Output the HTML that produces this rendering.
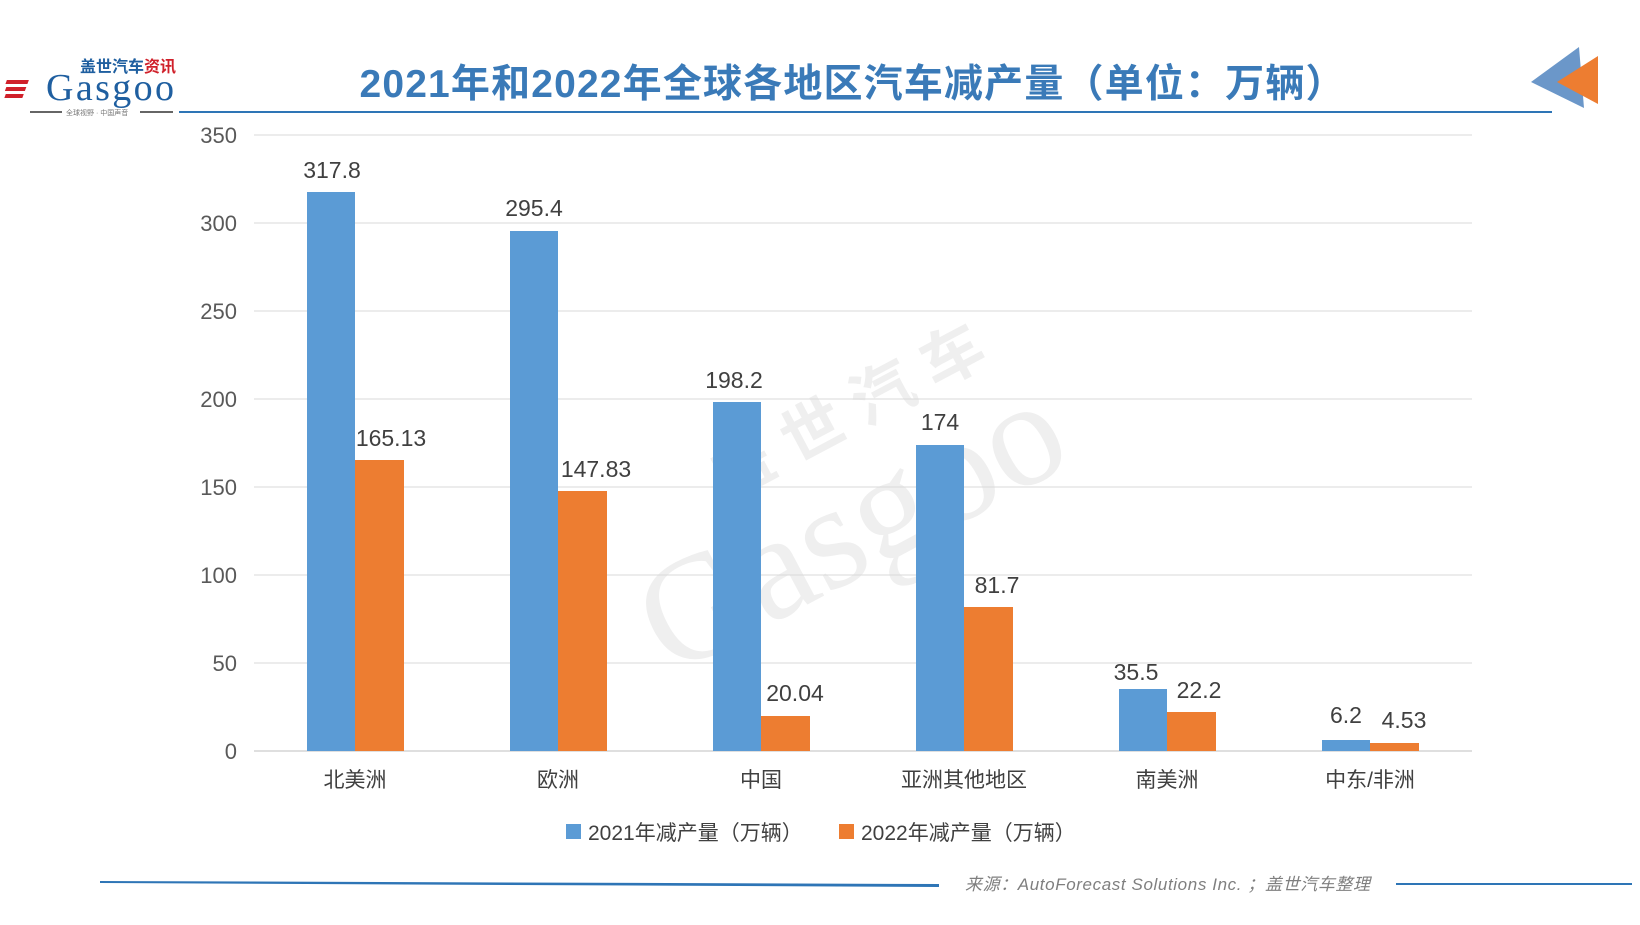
<!DOCTYPE html>
<html><head><meta charset="utf-8"><style>
html,body{margin:0;padding:0;background:#fff;}
svg{display:block;}
text{font-family:"Liberation Sans","Noto Sans CJK SC",sans-serif;}
</style></head><body>
<svg width="1640" height="925" viewBox="0 0 1640 925" xmlns="http://www.w3.org/2000/svg">
<rect width="1640" height="925" fill="#fff"/>
<!-- logo -->
<g>
<text x="80" y="72" font-size="16" font-weight="bold" fill="#1f5fa0">盖世汽车<tspan fill="#d0202a">资讯</tspan></text>
<rect x="36" y="80" width="22" height="4" fill="#d0202a" transform="skewX(-20)"/>
<rect x="38" y="87" width="20" height="4" fill="#d0202a" transform="skewX(-20)"/>
<rect x="40" y="94" width="18" height="4" fill="#d0202a" transform="skewX(-20)"/>
<text x="46" y="100" font-size="38" fill="#1f5fa0" style="font-family:'Liberation Serif',serif" textLength="128">Gasgoo</text>
<line x1="30" y1="112" x2="62" y2="112" stroke="#666" stroke-width="2"/>
<text x="66" y="115" font-size="7" fill="#777">全球视野 · 中国声音</text>
<line x1="140" y1="112" x2="173" y2="112" stroke="#666" stroke-width="2"/>
</g>
<!-- title -->
<text x="852" y="97" font-size="39" font-weight="bold" fill="#3a7ab8" text-anchor="middle" textLength="985">2021年和2022年全球各地区汽车减产量（单位：万辆）</text>
<line x1="179" y1="112" x2="1552" y2="112" stroke="#2e75b6" stroke-width="2"/>
<polygon points="1531,82 1579,47 1584,108" fill="#6b97c9"/>
<polygon points="1557,82 1598,56 1598,104" fill="#ed7d31"/>
<!-- watermark -->
<g transform="translate(850,480) rotate(-28)" fill="#efefef">
<text x="-250" y="90" font-size="150" style="font-family:'Liberation Serif',serif">Gasgoo</text>
<text x="-120" y="-40" font-size="62" font-weight="bold">盖 世 汽 车</text>
</g>
<!-- grid -->
<g stroke="#d9d9d9" stroke-width="1">
<line x1="254" y1="135" x2="1472" y2="135"/>
<line x1="254" y1="223" x2="1472" y2="223"/>
<line x1="254" y1="311" x2="1472" y2="311"/>
<line x1="254" y1="399" x2="1472" y2="399"/>
<line x1="254" y1="487" x2="1472" y2="487"/>
<line x1="254" y1="575" x2="1472" y2="575"/>
<line x1="254" y1="663" x2="1472" y2="663"/>
</g>
<line x1="254" y1="751" x2="1472" y2="751" stroke="#bfbfbf" stroke-width="1"/>
<g font-size="22" fill="#595959" text-anchor="end">
<text x="237" y="143">350</text><text x="237" y="231">300</text><text x="237" y="319">250</text>
<text x="237" y="407">200</text><text x="237" y="495">150</text><text x="237" y="583">100</text>
<text x="237" y="671">50</text><text x="237" y="759">0</text>
</g>
<!-- bars -->
<g fill="#5b9bd5">
<rect x="307" y="192" width="48" height="559"/>
<rect x="510" y="231" width="48" height="520"/>
<rect x="713" y="402" width="48" height="349"/>
<rect x="916" y="445" width="48" height="306"/>
<rect x="1119" y="689" width="48" height="62"/>
<rect x="1322" y="740" width="48" height="11"/>
</g>
<g fill="#ed7d31">
<rect x="355" y="460" width="49" height="291"/>
<rect x="558" y="491" width="49" height="260"/>
<rect x="761" y="716" width="49" height="35"/>
<rect x="964" y="607" width="49" height="144"/>
<rect x="1167" y="712" width="49" height="39"/>
<rect x="1370" y="743" width="49" height="8"/>
</g>
<g font-size="23" fill="#404040" text-anchor="middle">
<text x="332" y="178">317.8</text><text x="391" y="446">165.13</text>
<text x="534" y="216">295.4</text><text x="596" y="477">147.83</text>
<text x="734" y="388">198.2</text><text x="795" y="701">20.04</text>
<text x="940" y="430">174</text><text x="997" y="593">81.7</text>
<text x="1136" y="680">35.5</text><text x="1199" y="698">22.2</text>
<text x="1346" y="723">6.2</text><text x="1404" y="728">4.53</text>
</g>
<g font-size="21" fill="#404040" text-anchor="middle">
<text x="355" y="787">北美洲</text><text x="558" y="787">欧洲</text><text x="761" y="787">中国</text>
<text x="964" y="787">亚洲其他地区</text><text x="1167" y="787">南美洲</text><text x="1370" y="787">中东/非洲</text>
</g>
<!-- legend -->
<rect x="566" y="824" width="15" height="15" fill="#5b9bd5"/>
<text x="588" y="840" font-size="21" fill="#404040">2021年减产量（万辆）</text>
<rect x="839" y="824" width="15" height="15" fill="#ed7d31"/>
<text x="861" y="840" font-size="21" fill="#404040">2022年减产量（万辆）</text>
<!-- footer -->
<polygon points="100,881 939,884 939,887 100,883" fill="#2e75b6"/>
<text x="965" y="890" font-size="17" font-style="italic" fill="#7f7f7f" textLength="405">来源：AutoForecast Solutions Inc. ；盖世汽车整理</text>
<line x1="1396" y1="884" x2="1632" y2="884" stroke="#2e75b6" stroke-width="2"/>
</svg>
</body></html>
